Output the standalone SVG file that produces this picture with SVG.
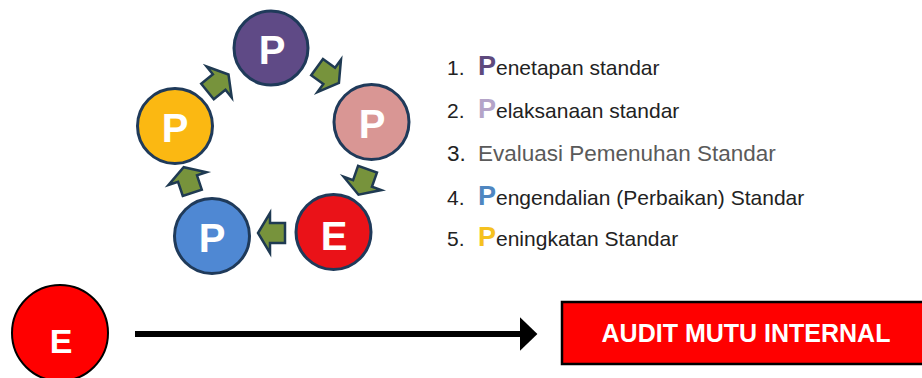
<svg xmlns="http://www.w3.org/2000/svg" width="922" height="378" viewBox="0 0 922 378">
<style>
.c{stroke:#1f3a5a;stroke-width:3}
.cl{font-family:"Liberation Sans",Arial,sans-serif;font-weight:bold;font-size:40px;fill:#fff;text-anchor:middle}
.ar{fill:#77933c;stroke:#1f3a52;stroke-width:2.5;stroke-linejoin:miter}
.li{font-family:"Liberation Sans",Arial,sans-serif;font-size:21px;fill:#222}
.bp{font-weight:bold;font-size:27px}
</style>
<defs>
<polygon id="blk" points="-13.5,-10 1.5,-10 1.5,-20 13.5,0 1.5,20 1.5,10 -13.5,10"/>
<marker id="ah" markerWidth="6" markerHeight="6" refX="0" refY="3" orient="auto" markerUnits="strokeWidth"><path d="M0,0.2 L2.9,3 L0,5.8 Z" fill="#000"/></marker>
</defs>
<rect width="922" height="378" fill="#fff"/>
<g id="connectors">
<use href="#blk" class="ar" transform="translate(328,75) rotate(36)"/>
<use href="#blk" class="ar" transform="translate(363,182) rotate(109.5)"/>
<use href="#blk" class="ar" transform="translate(271.5,233) rotate(180)"/>
<use href="#blk" class="ar" transform="translate(188,180) rotate(-108.6)"/>
<use href="#blk" class="ar" transform="translate(218,83) rotate(-39)"/>
<line x1="135" y1="334" x2="520" y2="334" stroke="#000" stroke-width="6" marker-end="url(#ah)"/>
</g>
<g id="p1"><circle class="c" cx="271" cy="48" r="37" fill="#5f4a86"/><text class="cl" x="272" y="64">P</text></g>
<g id="p2"><circle class="c" cx="371.5" cy="122" r="37.5" fill="#d99694"/><text class="cl" x="372" y="138">P</text></g>
<g id="e"><circle class="c" cx="333.5" cy="232" r="37.5" fill="#ea1218"/><text class="cl" x="334" y="250">E</text></g>
<g id="p4"><circle class="c" cx="212" cy="236" r="37.5" fill="#4f88d3"/><text class="cl" x="212" y="252">P</text></g>
<g id="p5"><circle class="c" cx="175" cy="126" r="37.5" fill="#fbb812"/><text class="cl" x="175" y="142">P</text></g>
<g id="list">
<text class="li" x="447" y="75">1.<tspan x="478" class="bp" fill="#5e4a7d">P</tspan>enetapan standar</text>
<text class="li" x="447" y="118">2.<tspan x="478" class="bp" fill="#b4a4c8">P</tspan>elaksanaan standar</text>
<text class="li" x="447" y="161" style="font-size:22.5px">3.<tspan x="478" fill="#5a5a5a">Evaluasi Pemenuhan Standar</tspan></text>
<text class="li" x="447" y="205">4.<tspan x="478" class="bp" fill="#4f86c0">P</tspan>engendalian (Perbaikan) Standar</text>
<text class="li" x="447" y="246">5.<tspan x="478" class="bp" fill="#f5c11f">P</tspan>eningkatan Standar</text>
</g>
<g id="e2"><circle cx="60" cy="333" r="48" fill="#ff0000" stroke="#000" stroke-width="2"/><text x="61" y="353" font-family="'Liberation Sans',Arial,sans-serif" font-weight="bold" font-size="34" fill="#fff" text-anchor="middle">E</text></g>
<g id="audit"><rect x="562" y="302" width="362" height="62" fill="#ff0000" stroke="#000" stroke-width="2.5"/><text x="746" y="342" font-family="'Liberation Sans',Arial,sans-serif" font-weight="bold" font-size="25" fill="#fff" text-anchor="middle">AUDIT MUTU INTERNAL</text></g>
</svg>
